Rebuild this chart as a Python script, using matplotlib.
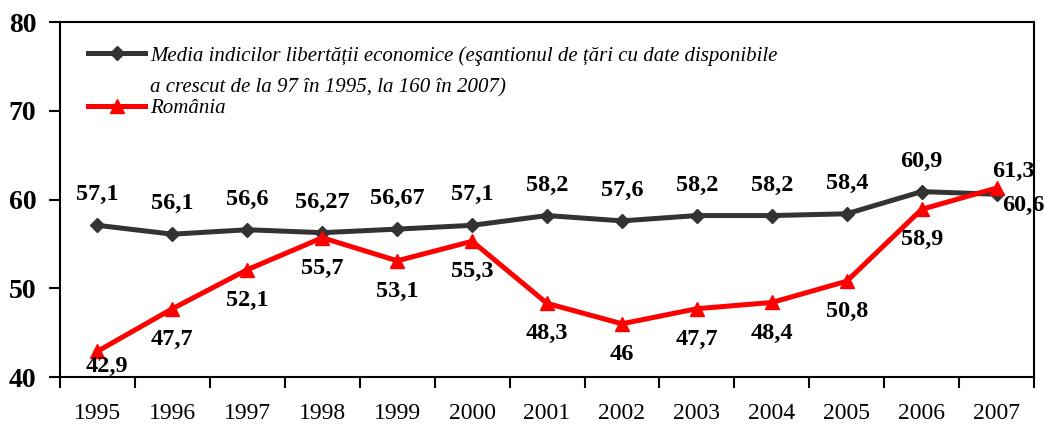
import matplotlib
matplotlib.use('Agg')
import matplotlib.pyplot as plt
import numpy as np

ani = ['1995', '1996', '1997', '1998', '1999', '2000', '2001',
       '2002', '2003', '2004', '2005', '2006', '2007']
media = [57.1, 56.1, 56.6, 56.27, 56.67, 57.1, 58.2, 57.6, 58.2, 58.2, 58.4, 60.9, 60.6]
romania = [42.9, 47.7, 52.1, 55.7, 53.1, 55.3, 48.3, 46, 47.7, 48.4, 50.8, 58.9, 61.3]

eticheta_media_1 = 'Media indicilor libertății economice (eşantionul de țări cu date disponibile'
eticheta_media_2 = 'a crescut de la 97 în 1995, la 160 în 2007)'
eticheta_romania = 'România'

plt.rcParams['font.family'] = ['Liberation Serif', 'DejaVu Serif']

fig = plt.figure(figsize=(10.44, 4.26), dpi=100)
ax = fig.add_axes([0.0575, 0.115, 0.933, 0.833])

x = np.arange(len(ani))
gri = '#333333'
rosu = '#ff0000'

ax.plot(x, media, color=gri, lw=3.6, marker='D', markersize=7,
        label=eticheta_media_1, zorder=3)
ax.plot(x, romania, color=rosu, lw=3.6, marker='^', markersize=10,
        label=eticheta_romania, zorder=4)


def fmt(v):
    return ('%g' % v).replace('.', ',')


# etichete de date: media deasupra, Romania dedesubt
for i, v in enumerate(media):
    dx, dy = 0, 22
    if i == len(media) - 1:
        dx, dy = 19, -8
    ax.annotate(fmt(v), (x[i], v), xytext=(dx, dy), textcoords='offset points',
                ha='center', va='center', fontsize=17.5, fontweight='bold')

for i, v in enumerate(romania):
    dx, dy = 0, -22
    if i == 0:
        dx, dy = 7, -11
    if i == len(romania) - 1:
        dx, dy = 12, 12
    ax.annotate(fmt(v), (x[i], v), xytext=(dx, dy), textcoords='offset points',
                ha='center', va='center', fontsize=17.5, fontweight='bold', zorder=5)

ax.set_xlim(-0.5, len(ani) - 0.5)
ax.set_ylim(40, 80)
ax.set_yticks([40, 50, 60, 70, 80])
ax.set_xticks(x)
ax.set_xticklabels(ani, fontsize=17)
ax.set_xticks(np.arange(len(ani) + 1) - 0.5, minor=True)
ax.tick_params(axis='x', which='major', length=0, pad=19)
ax.tick_params(axis='x', which='minor', length=8, width=1.5, direction='out')
ax.tick_params(axis='y', length=8, width=1.5, direction='out', pad=9, labelsize=20)
for lab in ax.get_yticklabels():
    lab.set_fontweight('bold')
for s in ax.spines.values():
    s.set_linewidth(1.5)

leg = ax.legend(loc='upper left', bbox_to_anchor=(0.0287, 0.933), frameon=False,
                borderpad=0, borderaxespad=0, handlelength=2.74, handletextpad=0.24,
                labelspacing=1.58, prop={'style': 'italic', 'size': 15})
ax.text(0.0924, 0.815, eticheta_media_2, transform=ax.transAxes,
        fontsize=15, style='italic', va='center', ha='left')

fig.savefig('out.png', dpi=100)
